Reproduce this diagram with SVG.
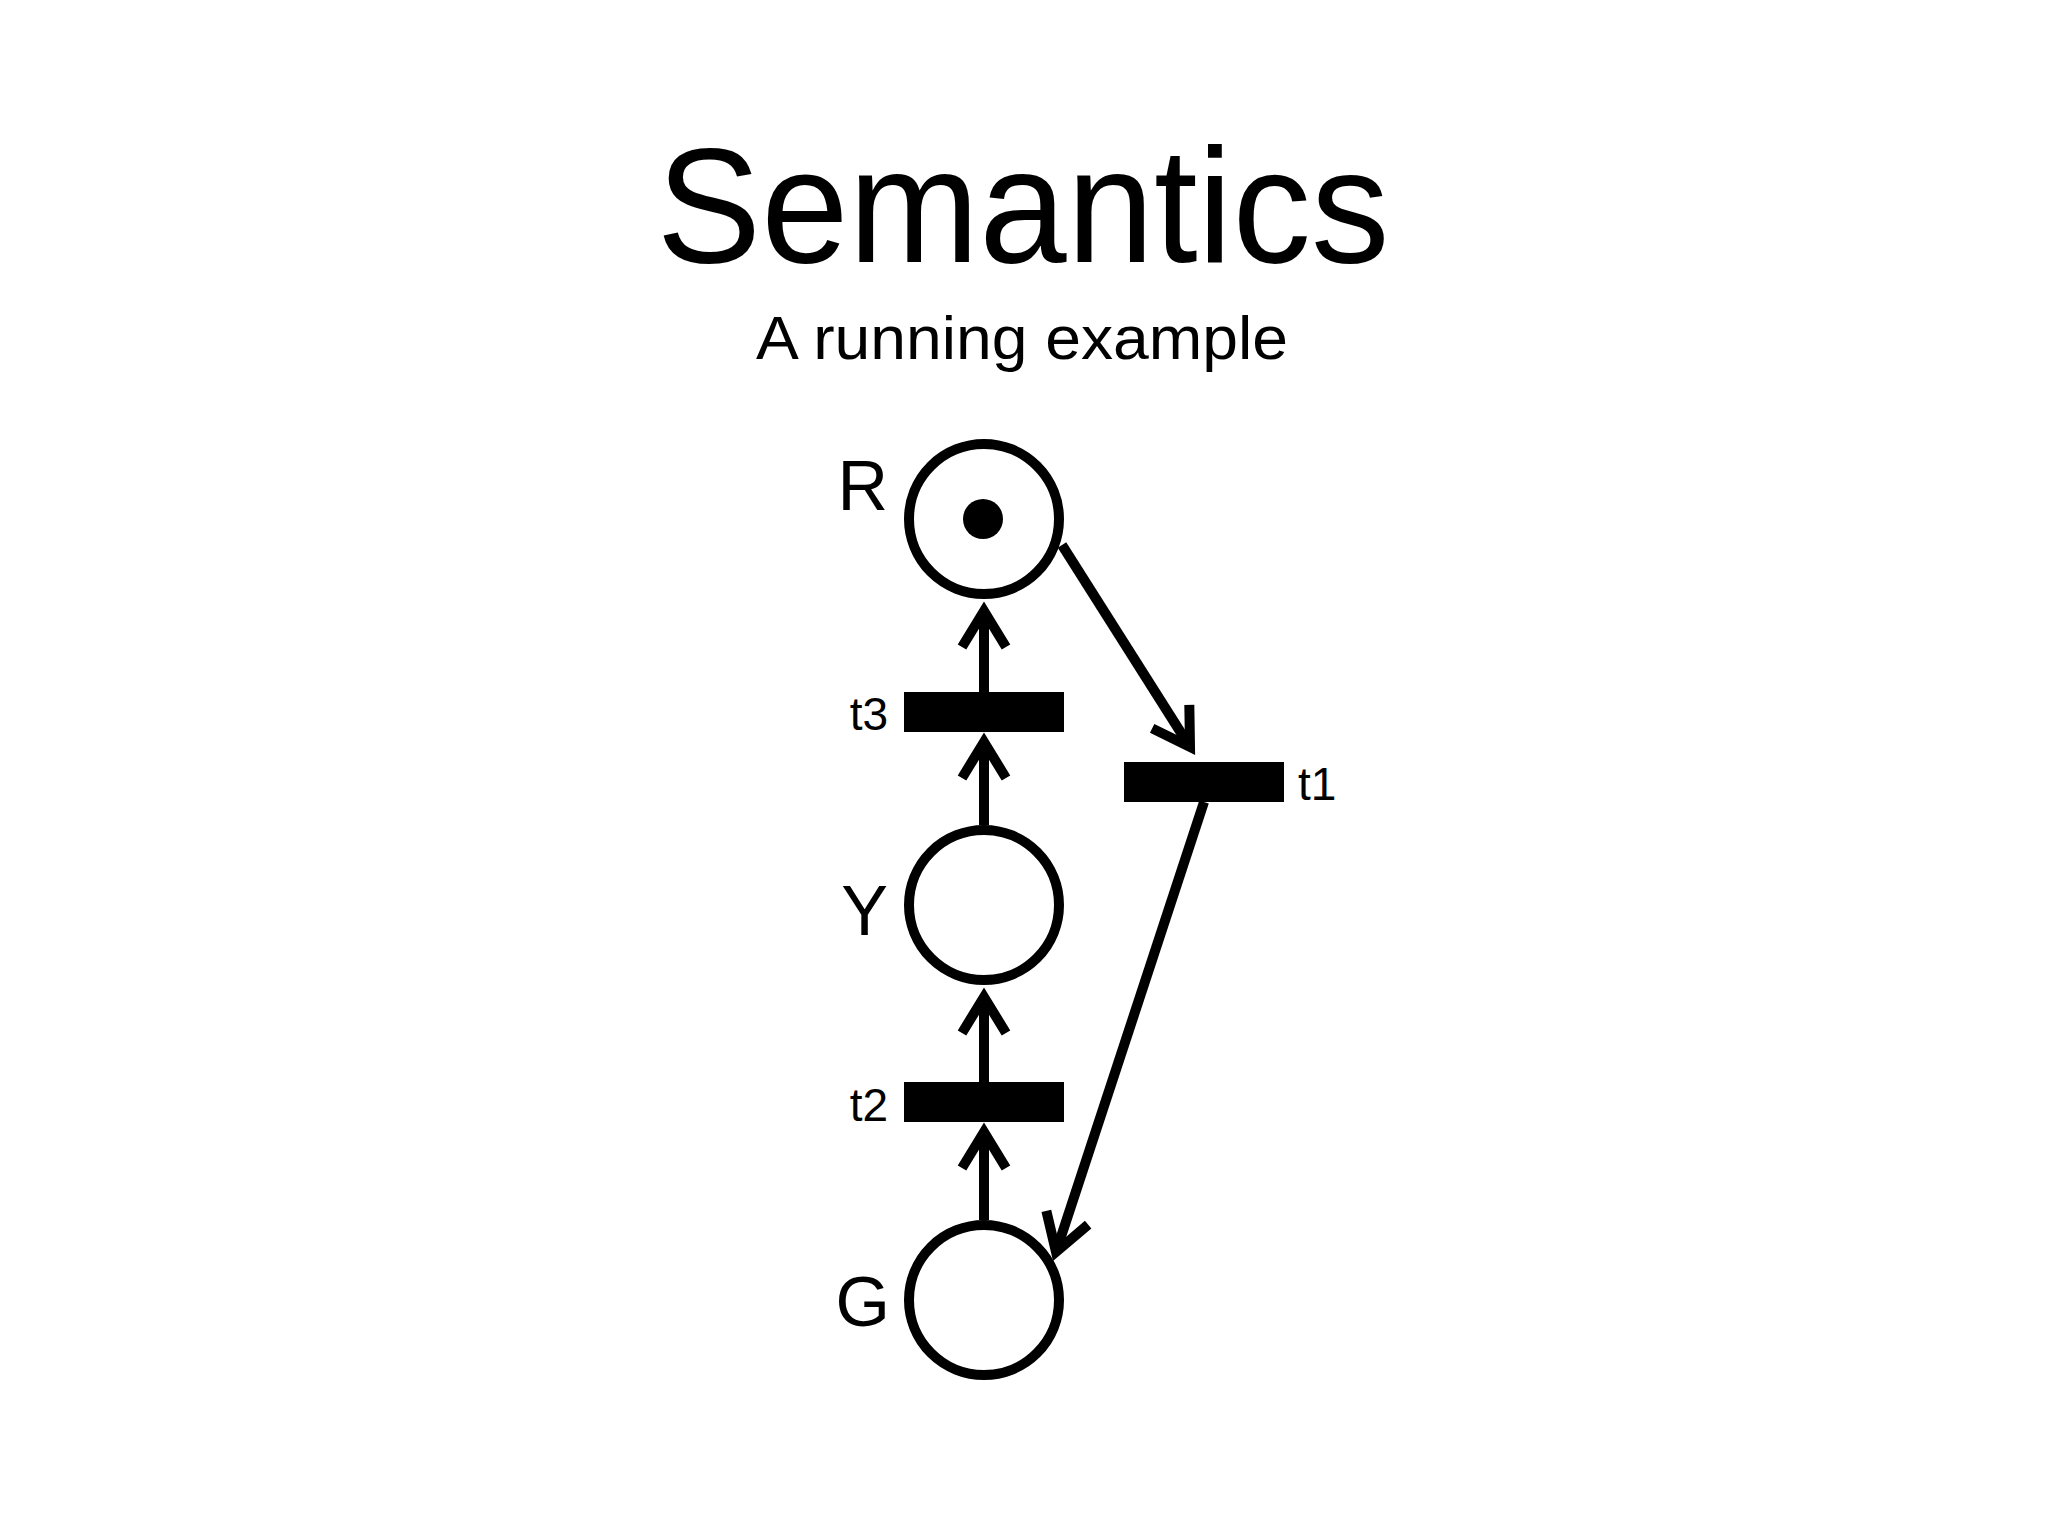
<svg xmlns="http://www.w3.org/2000/svg" width="2048" height="1536" viewBox="0 0 2048 1536">
<style>
.place{fill:none;stroke:#000;stroke-width:10}
.trans{fill:#000}
.lbl{font-family:"Liberation Sans",Arial,sans-serif;fill:#000}
.arc{fill:none;stroke:#000;stroke-width:10;marker-end:url(#arr)}
</style>
<defs>
<marker id="arr" markerUnits="userSpaceOnUse" orient="auto" refX="0" refY="0" viewBox="-60 -40 80 80" markerWidth="80" markerHeight="80" overflow="visible">
<path d="M-36,-22 L0,0 L-36,22" fill="none" stroke="#000" stroke-width="10" stroke-linejoin="miter" stroke-miterlimit="10"/>
</marker>
</defs>
<rect width="2048" height="1536" fill="#fff"/>
<text class="lbl" x="1023" y="262" font-size="163" text-anchor="middle" textLength="733" lengthAdjust="spacingAndGlyphs">Semantics</text>
<text class="lbl" x="1022" y="359" font-size="62" text-anchor="middle" textLength="532" lengthAdjust="spacingAndGlyphs">A running example</text>
<g id="R">
<circle class="place" cx="984" cy="519" r="75"/>
<circle cx="983" cy="519" r="20" fill="#000"/>
<text class="lbl" x="888" y="510" font-size="70" text-anchor="end">R</text>
</g>
<g id="Y">
<circle class="place" cx="984" cy="905" r="75"/>
<text class="lbl" x="888" y="935" font-size="70" text-anchor="end">Y</text>
</g>
<g id="G">
<circle class="place" cx="984" cy="1300" r="75"/>
<text class="lbl" x="890" y="1326" font-size="70" text-anchor="end">G</text>
</g>
<g id="t3">
<rect class="trans" x="904" y="692" width="160" height="40"/>
<text class="lbl" x="888" y="730" font-size="46" text-anchor="end">t3</text>
</g>
<g id="t1">
<rect class="trans" x="1124" y="762" width="160" height="40"/>
<text class="lbl" x="1298" y="800" font-size="46">t1</text>
</g>
<g id="t2">
<rect class="trans" x="904" y="1082" width="160" height="40"/>
<text class="lbl" x="888" y="1121" font-size="46" text-anchor="end">t2</text>
</g>
<g id="connectors">
<line class="arc" x1="984" y1="692" x2="984" y2="611"/>
<line class="arc" x1="984" y1="825" x2="984" y2="742"/>
<line class="arc" x1="984" y1="1082" x2="984" y2="997"/>
<line class="arc" x1="984" y1="1220" x2="984" y2="1132"/>
<line class="arc" x1="1062" y1="545" x2="1190" y2="747"/>
<line class="arc" x1="1204" y1="802" x2="1056" y2="1252"/>
</g>
</svg>
